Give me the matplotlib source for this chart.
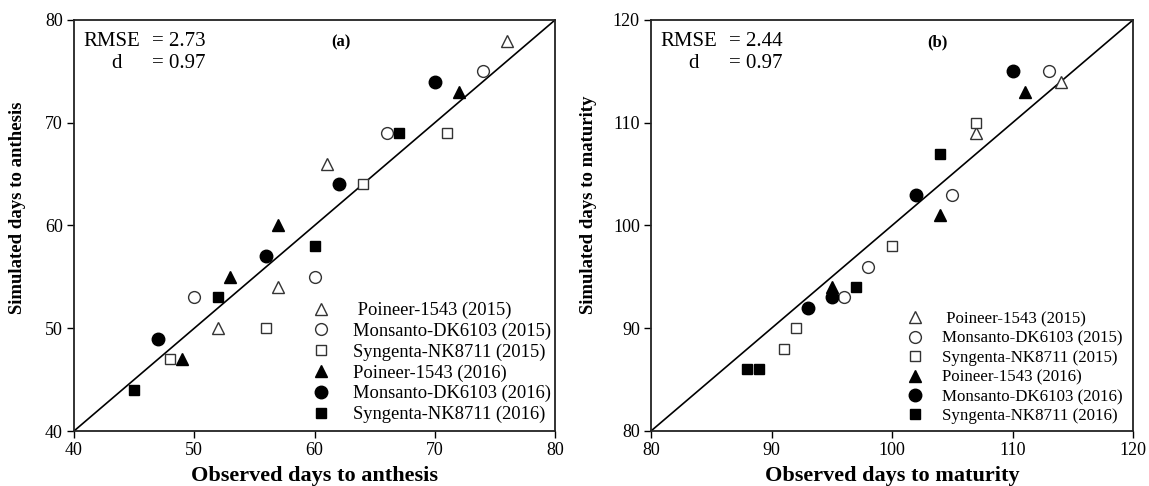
import matplotlib
matplotlib.use("Agg")
import matplotlib.pyplot as plt

# ---------------- data ----------------
labels = [" Poineer-1543 (2015)", "Monsanto-DK6103 (2015)", "Syngenta-NK8711 (2015)",
          "Poineer-1543 (2016)", "Monsanto-DK6103 (2016)", "Syngenta-NK8711 (2016)"]

# Panel (a): days to anthesis (observed, simulated)
a_p15_obs = [52, 57, 61, 76]
a_p15_sim = [50, 54, 66, 78]
a_m15_obs = [50, 60, 66, 74]
a_m15_sim = [53, 55, 69, 75]
a_s15_obs = [48, 56, 64, 71]
a_s15_sim = [47, 50, 64, 69]
a_p16_obs = [49, 53, 57, 72]
a_p16_sim = [47, 55, 60, 73]
a_m16_obs = [47, 56, 62, 70]
a_m16_sim = [49, 57, 64, 74]
a_s16_obs = [45, 52, 60, 67]
a_s16_sim = [44, 53, 58, 69]

# Panel (b): days to maturity (observed, simulated)
b_p15_obs = [107, 114]
b_p15_sim = [109, 114]
b_m15_obs = [96, 98, 105, 113]
b_m15_sim = [93, 96, 103, 115]
b_s15_obs = [91, 92, 100, 107]
b_s15_sim = [88, 90, 98, 110]
b_p16_obs = [95, 104, 111]
b_p16_sim = [94, 101, 113]
b_m16_obs = [93, 95, 102, 110]
b_m16_sim = [92, 93, 103, 115]
b_s16_obs = [88, 89, 97, 104]
b_s16_sim = [86, 86, 94, 107]

a_stats = ("2.73", "0.97")
b_stats = ("2.44", "0.97")

a_ticks = [40, 50, 60, 70, 80]
b_ticks = [80, 90, 100, 110, 120]

# ---------------- style ----------------
plt.rcParams['font.family'] = ['Liberation Serif', 'DejaVu Serif']
W, H = 1149, 486
fig = plt.figure(figsize=(W / 100, H / 100), dpi=100)

styles = [
    dict(marker='^', mfc='white', mec='#333333', ms=8.5, mew=1.0),
    dict(marker='o', mfc='white', mec='#333333', ms=8.5, mew=1.0),
    dict(marker='s', mfc='white', mec='#333333', ms=7.5, mew=1.0),
    dict(marker='^', mfc='black', mec='black', ms=8.5, mew=1.0),
    dict(marker='o', mfc='black', mec='black', ms=9, mew=1.0),
    dict(marker='s', mfc='black', mec='black', ms=7.5, mew=1.0),
]


def panel(rect, series, ticks, stats, tag, tag_x, xlabel, ylabel, ylab_xy,
          leg_anchor, leg_fs, leg_space, leg_pad):
    ax = fig.add_axes(rect)
    lo, hi = ticks[0], ticks[-1]
    ax.plot([lo, hi], [lo, hi], color='black', lw=1.2, zorder=1)
    for (xs, ys), st, lab in zip(series, styles, labels):
        ax.plot(xs, ys, ls='none', label=lab, zorder=3, **st)
    ax.set_xlim(lo, hi)
    ax.set_ylim(lo, hi)
    ax.set_xticks(ticks)
    ax.set_yticks(ticks)
    ax.tick_params(direction='out', length=5, width=1, labelsize=13, pad=3,
                   top=False, right=False)
    for s in ax.spines.values():
        s.set_linewidth(1.3)
        s.set_color('#222222')
    ax.set_xlabel(xlabel, fontsize=16, fontweight='bold', labelpad=5)
    ax.set_ylabel(ylabel, fontsize=13.5, fontweight='bold')
    ax.yaxis.set_label_coords(*ylab_xy)
    # stats text (axes fraction positions)
    tr = ax.transAxes
    ax.text(9 / 481, 1 - 26 / 411, "RMSE", transform=tr, fontsize=15, va='baseline', ha='left')
    ax.text(78 / 481, 1 - 26 / 411, "= " + stats[0], transform=tr, fontsize=15, va='baseline', ha='left')
    ax.text(37 / 481, 1 - 48 / 411, "d", transform=tr, fontsize=15, va='baseline', ha='left')
    ax.text(78 / 481, 1 - 48 / 411, "= " + stats[1], transform=tr, fontsize=15, va='baseline', ha='left')
    ax.text(tag_x, 1 - 26 / 411, tag, transform=tr, fontsize=12, fontweight='bold',
            va='baseline', ha='center')
    ax.legend(loc='lower right', bbox_to_anchor=leg_anchor, frameon=False, fontsize=leg_fs,
              handletextpad=leg_pad, labelspacing=leg_space, borderpad=0.2, handlelength=1.2,
              borderaxespad=0)
    return ax


panel([74 / W, (H - 431) / H, 481 / W, 411 / H],
      [(a_p15_obs, a_p15_sim), (a_m15_obs, a_m15_sim), (a_s15_obs, a_s15_sim),
       (a_p16_obs, a_p16_sim), (a_m16_obs, a_m16_sim), (a_s16_obs, a_s16_sim)],
      a_ticks, a_stats, "(a)", 267 / 481,
      "Observed days to anthesis", "Simulated days to anthesis", (-0.1, 0.543),
      (1.0, 0.01), 13.3, 0.19, 1.13)

panel([651 / W, (H - 431) / H, 482 / W, 411 / H],
      [(b_p15_obs, b_p15_sim), (b_m15_obs, b_m15_sim), (b_s15_obs, b_s15_sim),
       (b_p16_obs, b_p16_sim), (b_m16_obs, b_m16_sim), (b_s16_obs, b_s16_sim)],
      b_ticks, b_stats, "(b)", 286 / 482,
      "Observed days to maturity", "Simulated days to maturity", (-0.112, 0.55),
      (0.9865, 0.008), 12.2, 0.2, 1.0)

fig.savefig("out.png", dpi=100, facecolor='white')
